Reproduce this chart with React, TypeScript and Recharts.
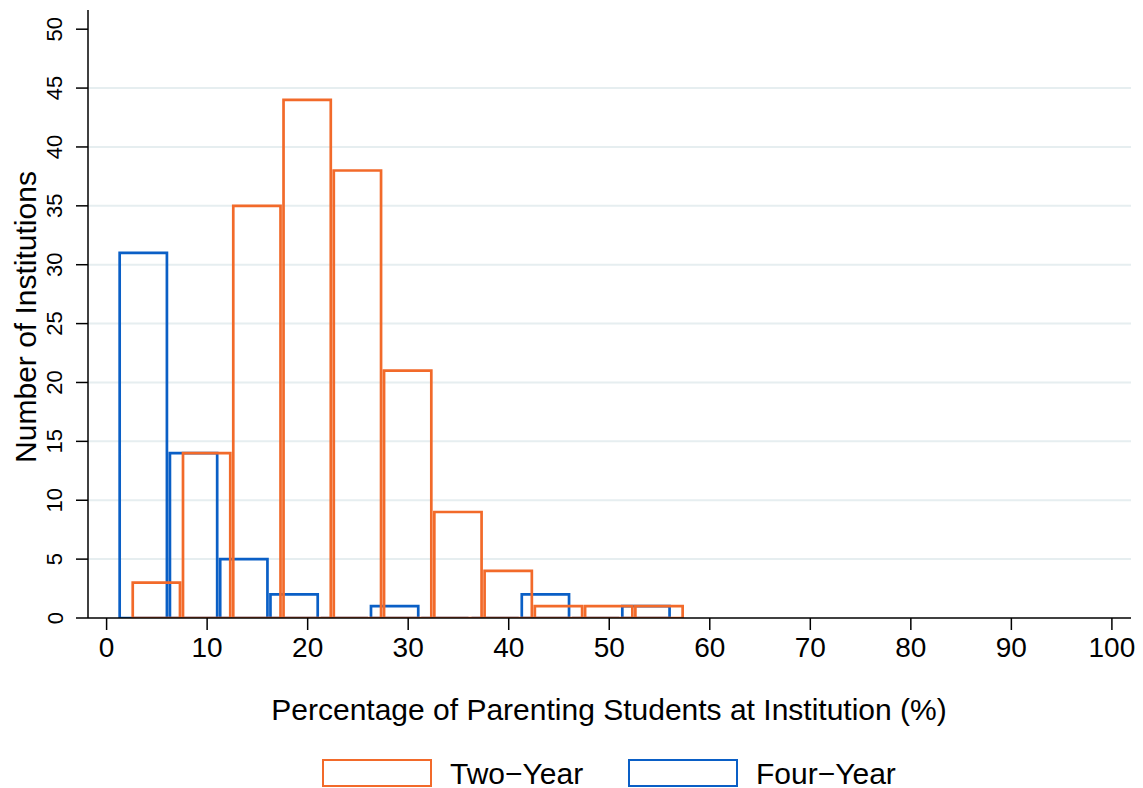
import React from 'react';
import { ComposedChart, Line, XAxis, YAxis, ReferenceLine, Legend } from 'recharts';

// Histogram counts per bin (bin width 5 percentage points)
const twoYearCounts = [3, 14, 35, 44, 38, 21, 9, 4, 1, 1, 1];
const fourYearCounts = [31, 14, 5, 2, 0, 1, 0, 0, 2, 0, 1];
const twoYearBinStart = 2.6;
const fourYearBinStart = 1.3;
const binWidth = 5;
const barFraction = 0.94;

const xTicks = [0, 10, 20, 30, 40, 50, 60, 70, 80, 90, 100];
const yTicks = [0, 5, 10, 15, 20, 25, 30, 35, 40, 45, 50];
const gridValues = [5, 10, 15, 20, 25, 30, 35, 40, 45];
const seriesNames = ['Two\u2212Year', 'Four\u2212Year'];

const ORANGE = '#f26a2a';
const BLUE = '#0a5fc6';
const FONT = '"Liberation Sans", Arial, Helvetica, sans-serif';

type Pt = { x: number; y: number | null };

function outline(counts: number[], start: number): Pt[] {
  const pts: Pt[] = [];
  counts.forEach((c, i) => {
    const lo = start + i * binWidth;
    const hi = lo + binWidth * barFraction;
    pts.push({ x: lo, y: 0 }, { x: lo, y: c }, { x: hi, y: c }, { x: hi, y: 0 }, { x: lo, y: 0 }, { x: hi, y: null });
  });
  return pts;
}

const twoYearOutline = outline(twoYearCounts, twoYearBinStart);
const fourYearOutline = outline(fourYearCounts, fourYearBinStart);

const XTick = (props: any) => {
  const { x, y, payload } = props;
  return (
    <text x={x} y={y} dy={27} textAnchor="middle" fontSize={28} fontFamily={FONT} fill="#000">
      {payload.value}
    </text>
  );
};

const YTick = (props: any) => {
  const { y, payload } = props;
  const cx = 55;
  return (
    <text
      x={cx}
      y={y}
      transform={`rotate(-90, ${cx}, ${y})`}
      textAnchor="middle"
      dominantBaseline="central"
      fontSize={22}
      fontFamily={FONT}
      fill="#000"
    >
      {payload.value}
    </text>
  );
};

const YTitle = (props: any) => {
  const vb = props.viewBox || {};
  const cy = vb.y + vb.height / 2 + 3;
  const cx = 25;
  return (
    <text
      x={cx}
      y={cy}
      transform={`rotate(-90, ${cx}, ${cy})`}
      textAnchor="middle"
      dominantBaseline="central"
      fontSize={30}
      fontFamily={FONT}
      fill="#000"
    >
      Number of Institutions
    </text>
  );
};

const XTitle = () => {
  return (
    <text x={609} y={720} textAnchor="middle" fontSize={30} fontFamily={FONT} fill="#000">
      Percentage of Parenting Students at Institution (%)
    </text>
  );
};

const LegendContent = () => {
  const colors = [ORANGE, BLUE];
  const lefts = [322, 628];
  return (
    <div style={{ position: 'relative', height: 0, width: 1143 }}>
      {seriesNames.map((n, i) => (
        <div key={n} style={{ position: 'absolute', left: lefts[i], top: 0, display: 'flex', alignItems: 'flex-start' }}>
          <div style={{ width: 106, height: 24, border: `2.5px solid ${colors[i]}`, boxSizing: 'content-box' }} />
          <span
            style={{
              marginLeft: 18,
              marginTop: 1,
              fontSize: 30,
              lineHeight: '27px',
              fontFamily: FONT,
              color: '#000',
              whiteSpace: 'nowrap',
            }}
          >
            {n}
          </span>
        </div>
      ))}
    </div>
  );
};

export default function App() {
  return (
    <div style={{ position: 'absolute', left: 0, top: 0, width: 1143, height: 788, background: '#fff' }}>
      <ComposedChart width={1143} height={788} margin={{ top: 10, right: 12, left: 0, bottom: 0 }}>
        <XAxis
          type="number"
          dataKey="x"
          domain={[-1.85, 101.9]}
          ticks={xTicks}
          interval={0}
          allowDataOverflow
          tickSize={12}
          tickMargin={0}
          height={170}
          tick={<XTick />}
          axisLine={{ stroke: '#000', strokeWidth: 1.5 }}
          tickLine={{ stroke: '#000', strokeWidth: 1.5 }}
          label={<XTitle />}
        />
        <YAxis
          type="number"
          domain={[0, 51.63]}
          ticks={yTicks}
          interval={0}
          allowDataOverflow
          width={88}
          tickSize={12}
          tickMargin={0}
          tick={<YTick />}
          axisLine={{ stroke: '#000', strokeWidth: 1.5 }}
          tickLine={{ stroke: '#000', strokeWidth: 1.5 }}
          label={<YTitle />}
        />
        {gridValues.map((v) => (
          <ReferenceLine key={v} y={v} stroke="#e6eef0" strokeWidth={2} />
        ))}
        <Line
          data={fourYearOutline}
          dataKey="y"
          name={seriesNames[1]}
          stroke={BLUE}
          strokeWidth={2.7}
          dot={false}
          activeDot={false}
          type="linear"
          connectNulls={false}
          isAnimationActive={false}
        />
        <Line
          data={twoYearOutline}
          dataKey="y"
          name={seriesNames[0]}
          stroke={ORANGE}
          strokeWidth={2.7}
          dot={false}
          activeDot={false}
          type="linear"
          connectNulls={false}
          isAnimationActive={false}
        />
        <Legend
          content={<LegendContent />}
          wrapperStyle={{ position: 'absolute', left: 0, top: 759, width: 1143, height: 0 }}
        />
      </ComposedChart>
    </div>
  );
}
